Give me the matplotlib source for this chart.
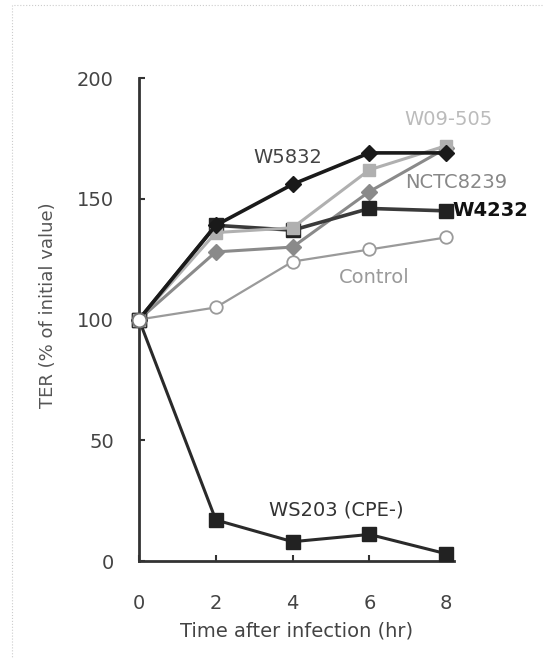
import matplotlib.pyplot as plt
from matplotlib.patches import Rectangle

# time points (hr)
hours = [0, 2, 4, 6, 8]

# TER values, % of initial
w5832 = [100, 139, 156, 169, 169]
w09_505 = [100, 136, 138, 162, 172]
nctc8239 = [100, 128, 130, 153, 171]
w4232 = [100, 139, 137, 146, 145]
control = [100, 105, 124, 129, 134]
ws203 = [100, 17, 8, 11, 3]

fig = plt.figure(figsize=(5.44, 6.58), dpi=100)
ax = fig.add_axes([0.2555, 0.1474, 0.579, 0.734])

# faint frame of the scanned figure
fig.patches.append(Rectangle((0.022, -0.01), 1.0, 1.002, transform=fig.transFigure,
                             fill=False, edgecolor='#cccccc', linewidth=0.8,
                             linestyle=':'))

ax.plot(hours, control, color='#9a9a9a', linewidth=1.6, marker='o',
        markersize=9, markerfacecolor='white', markeredgecolor='#9a9a9a',
        markeredgewidth=1.3, clip_on=False, zorder=3)
ax.plot(hours, nctc8239, color='#8a8a8a', linewidth=2.2, marker='D',
        markersize=8, markerfacecolor='#8a8a8a', markeredgecolor='#8a8a8a',
        clip_on=False, zorder=4)
ax.plot(hours, w09_505, color='#b0b0b0', linewidth=2.2, marker='s',
        markersize=9, markerfacecolor='#b0b0b0', markeredgecolor='#b0b0b0',
        clip_on=False, zorder=5)
ax.plot(hours, w4232, color='#3a3a3a', linewidth=2.6, marker='s',
        markersize=10, markerfacecolor='#222222', markeredgecolor='#222222',
        clip_on=False, zorder=4)
ax.plot(hours, w5832, color='#1a1a1a', linewidth=2.6, marker='D',
        markersize=8, markerfacecolor='#1a1a1a', markeredgecolor='#1a1a1a',
        clip_on=False, zorder=6)
ax.plot(hours, ws203, color='#2a2a2a', linewidth=2.2, marker='s',
        markersize=10, markerfacecolor='#222222', markeredgecolor='#222222',
        clip_on=False, zorder=4)
# redraw the starting point as an open circle on top
ax.plot(hours[:1], control[:1], linestyle='none', marker='o', markersize=10,
        markerfacecolor='white', markeredgecolor='#777777',
        markeredgewidth=1.4, clip_on=False, zorder=7)

ax.text(3.87, 167, 'W5832', color='#444444', fontsize=14,
        ha='center', va='center')
ax.text(8.05, 183, 'W09-505', color='#bbbbbb', fontsize=14,
        ha='center', va='center')
ax.text(8.25, 156.7, 'NCTC8239', color='#888888', fontsize=14,
        ha='center', va='center')
ax.text(8.15, 145, 'W4232', color='#111111', fontsize=14,
        fontweight='bold', ha='left', va='center')
ax.text(6.12, 117.5, 'Control', color='#9a9a9a', fontsize=14,
        ha='center', va='center')
ax.text(5.13, 21, 'WS203 (CPE-)', color='#333333', fontsize=14,
        ha='center', va='center')

ax.set_xlim(0, 8.2)
ax.set_ylim(0, 200)
ax.set_xticks([0, 2, 4, 6, 8])
ax.set_yticks([0, 50, 100, 150, 200])
ax.tick_params(direction='in', length=4, width=1.5, colors='#333333',
               labelcolor='#444444', labelsize=14)
ax.tick_params(axis='y', pad=18)
ax.tick_params(axis='x', pad=24)
ax.spines['top'].set_visible(False)
ax.spines['right'].set_visible(False)
ax.spines['left'].set_linewidth(2)
ax.spines['bottom'].set_linewidth(2)
ax.spines['left'].set_color('#333333')
ax.spines['bottom'].set_color('#333333')

ax.set_xlabel('Time after infection (hr)', color='#444444', fontsize=14,
              labelpad=6)
ax.set_ylabel('TER (% of initial value)', color='#555555', fontsize=13)
ax.yaxis.set_label_coords(-0.26, 0.53)

fig.savefig('out.png', dpi=100, facecolor='white')
